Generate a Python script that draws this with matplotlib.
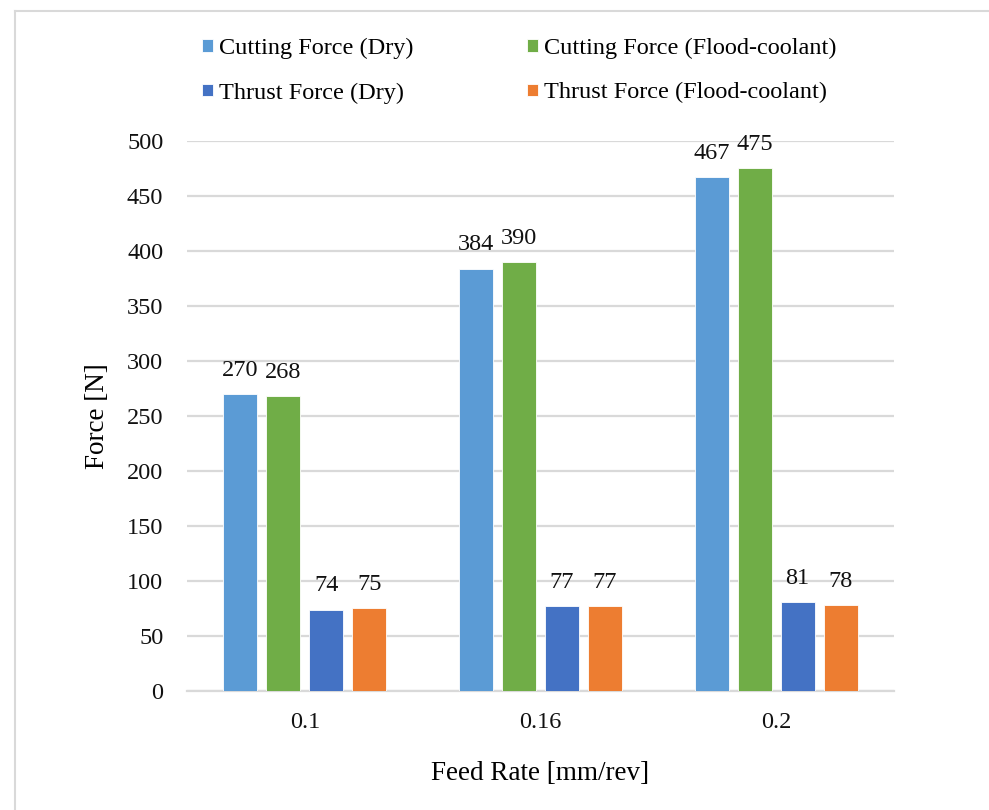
import matplotlib
matplotlib.use("Agg")
import matplotlib.pyplot as plt
import numpy as np
from matplotlib.lines import Line2D

plt.rcParams.update({
    "font.family": ["Liberation Serif", "DejaVu Serif"],
    "font.size": 17.5,
    "figure.facecolor": "white",
})

feed_rates = ["0.1", "0.16", "0.2"]
series_names = ["Cutting Force (Dry)", "Cutting Force (Flood-coolant)",
                "Thrust Force (Dry)", "Thrust Force (Flood-coolant)"]
cutting_dry = [270, 384, 467]
cutting_flood = [268, 390, 475]
thrust_dry = [74, 77, 81]
thrust_flood = [75, 77, 78]
series = [cutting_dry, cutting_flood, thrust_dry, thrust_flood]
colors = ["#5B9BD5", "#70AD47", "#4472C4", "#ED7D31"]

GRID = "#D9D9D9"
FS = 17.5

fig = plt.figure(figsize=(9.89, 8.10), dpi=100)
ax = fig.add_axes([0.189, 0.147, 0.715, 0.679])

x = np.arange(len(feed_rates))
step, width = 0.182, 0.144
handles = []
for i, (vals, name, c) in enumerate(zip(series, series_names, colors)):
    pos = x + (i - 1.5) * step
    bars = ax.bar(pos, vals, width, color=c, edgecolor="white", linewidth=0.6,
                  label=name, zorder=3)
    handles.append(bars)
    for p, v in zip(pos, vals):
        ax.annotate(str(v), (p, v), xytext=(0, 9.5), textcoords="offset points",
                    ha="center", va="bottom", fontsize=FS, color="#111111")

ax.set_xlim(-0.5, 2.5)
ax.set_ylim(0, 500)
ax.set_yticks(np.arange(0, 501, 50))
ax.set_xticks(x)
ax.set_xticklabels(feed_rates)
ax.yaxis.grid(True, color=GRID, linewidth=1.6, zorder=0)
ax.set_axisbelow(True)
for s in ("top", "right", "left"):
    ax.spines[s].set_visible(False)
ax.spines["bottom"].set_color(GRID)
ax.spines["bottom"].set_linewidth(1.6)
ax.tick_params(length=0, pad=15, labelsize=FS, colors="#111111")
ax.tick_params(axis="y", pad=17)
ax.set_xlabel("Feed Rate [mm/rev]", fontsize=19.5, labelpad=20)
ax.set_ylabel("Force [N]", fontsize=19.5, labelpad=12)

# legend filled row by row: matplotlib fills columns first, so reorder
order = [0, 2, 1, 3]
fig.legend(handles=[handles[k] for k in order], loc="upper center",
           bbox_to_anchor=(0.525, 0.98), ncol=2, frameon=False, fontsize=FS,
           handlelength=0.42, handleheight=0.42, handletextpad=0.25,
           columnspacing=4.7, labelspacing=0.95)

# thin frame lines along the top and left edge
fig.add_artist(Line2D([0.0152, 1.0], [0.9864, 0.9864], color="#D9D9D9",
                      linewidth=1.5, transform=fig.transFigure))
fig.add_artist(Line2D([0.0152, 0.0152], [0.0, 0.9864], color="#D9D9D9",
                      linewidth=1.5, transform=fig.transFigure))

fig.savefig("out.png", dpi=100)
